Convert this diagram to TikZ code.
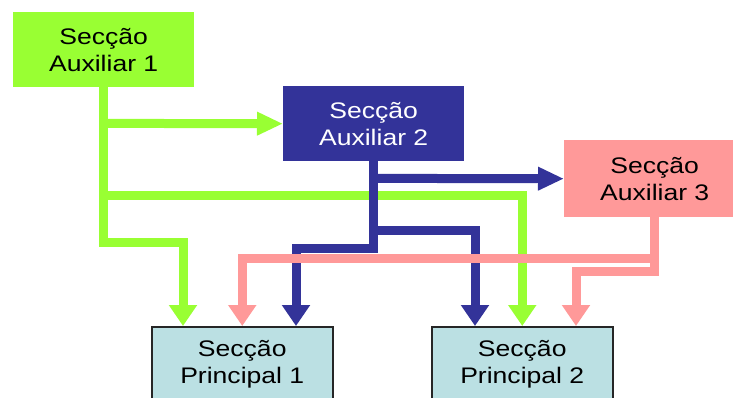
\documentclass[tikz,border=0pt]{standalone}
\usepackage{fontspec}
\setmainfont{Liberation Sans}
\newfontfamily\labfont[FakeStretch=1.18]{Liberation Sans}
\usetikzlibrary{arrows.meta,calc}
\definecolor{auxgreen}{HTML}{99FF33}
\definecolor{auxnavy}{HTML}{333399}
\definecolor{auxpink}{HTML}{FF9999}
\definecolor{mainblue}{HTML}{BBE0E3}
\definecolor{mainedge}{HTML}{262626}
\begin{document}
\begin{tikzpicture}[x=1pt,y=-1pt,
  box/.style={minimum width=181pt, minimum height=75pt, inner sep=0pt,
    anchor=north west, align=center,
    font=\labfont\fontsize{22.5}{27}\selectfont},
  mainbox/.style={box, fill=mainblue, draw=mainedge, line width=1.5pt},
  pipe/.style={line width=9pt},
  flowh/.style={pipe, -{Triangle[width=22pt,length=26pt]}},
  flowv/.style={pipe, -{Triangle[width=27pt,length=21pt]}}]
\useasboundingbox (0,0) rectangle (733,398);

% sections
\node[box, fill=auxgreen] (a1) at (13,12) {Secção\\Auxiliar 1};
\node[box, fill=auxnavy, text=white] (a2) at (283,86) {Secção\\Auxiliar 2};
\node[box, fill=auxpink, minimum height=77pt] (a3) at (564,140) {Secção\\Auxiliar 3};
\node[mainbox] (p1) at (151,326) {Secção\\Principal 1};
\node[mainbox] (p2) at (431,326) {Secção\\Principal 2};

% flows out of Auxiliar 1
\draw[flowv, auxgreen] (a1.south) -- ++(0,155.5) -| ($(p1.north west)+(32,0)$);
\draw[flowh, auxgreen] ($(a1.south)+(0,36)$) -- (a2.west);
\draw[flowv, auxgreen] ($(a1.south)+(0,108)$) -| (p2.north);

% flows out of Auxiliar 2
\draw[flowh, auxnavy] ($(a2.south)+(0,17)$) -- (a3.west);
\draw[flowv, auxnavy] (a2.south) -- ++(0,87.5) -| ($(p1.north west)+(145,0)$);
\draw[flowv, auxnavy] ($(a2.south)+(0,69)$) -| ($(p2.north west)+(44,0)$);

% flows out of Auxiliar 3
\draw[flowv, auxpink] (a3.south) -- ++(0,41.5) -| (p1.north);
\draw[flowv, auxpink] (a3.south) -- ++(0,54) -| ($(p2.north west)+(145,0)$);
\end{tikzpicture}
\end{document}
